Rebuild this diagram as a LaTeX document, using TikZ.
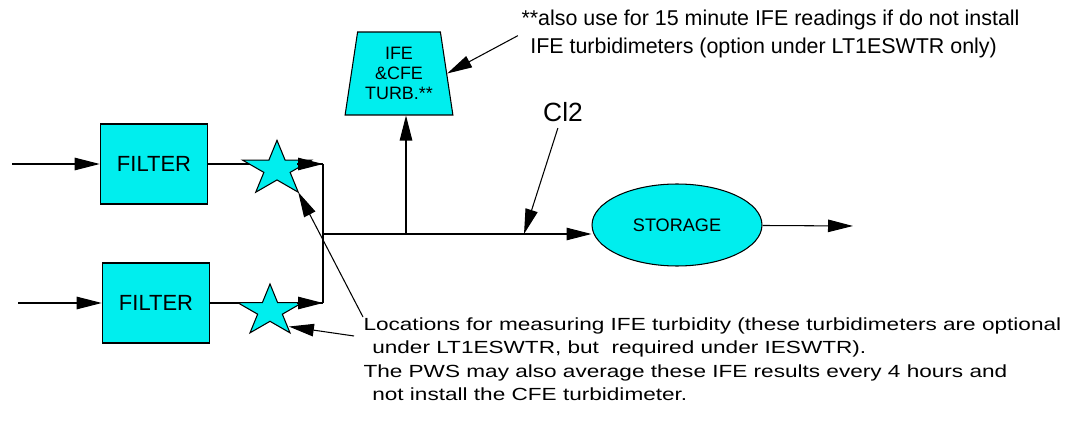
\documentclass[tikz,border=0pt]{standalone}
\usepackage{fontspec}
\setmainfont{Liberation Sans}
\newfontfamily\widefont{Liberation Sans}[FakeStretch=1.285]
\usetikzlibrary{shapes.geometric,arrows.meta}
\definecolor{aqua}{HTML}{00EEEE}
\tikzset{
  flow/.style={-{Triangle[length=0.5cm,width=0.25cm]}},
  unit/.style={rectangle,draw,fill=aqua,minimum width=2.15cm,minimum height=1.6cm,
    font=\fontsize{12.5}{14}\selectfont},
  meter/.pic={
    \draw[fill=aqua] (-90:#1) -- (-126:{#1/2.618}) -- (-162:#1) -- (-198:{#1/2.618})
      -- (-234:#1) -- (-270:{#1/2.618}) -- (-306:#1) -- (-342:{#1/2.618})
      -- (-378:#1) -- (-414:{#1/2.618}) -- cycle;
    \coordinate (-lr) at (54:#1);
    \coordinate (-rb) at (46:{#1*0.8});
  },
  note/.style={align=left,inner sep=0pt},
}

\begin{document}
\begin{tikzpicture}[x=0.02cm,y=-0.02cm,line width=0.6pt]
  \useasboundingbox (0,0) rectangle (1078,422);
  % filters
  \node[unit] (f1) at (154,164) {FILTER};
  \node[unit] (f2) at (156,303) {FILTER};
  \coordinate (in1) at (12,164);
  \coordinate (in2) at (18,303);
  \draw[flow] (in1) -- (f1);
  \draw[flow] (in2) -- (f2);
  % junction line
  \coordinate (j1) at (323,164);
  \coordinate (j2) at (323,303);
  \coordinate (j3) at (323,234);
  \coordinate (j4) at (406,234);
  \coordinate (m1) at (297,164);
  \coordinate (m2) at (297,303);
  \draw (f1) -- (j1);
  \draw (f2) -- (j2);
  % IFE turbidimeters
  \pic[xscale=1.26] (s1) at (277,169) {meter=28.7};
  \pic[xscale=1.26] (s2) at (270,311) {meter=27};
  \draw[flow] (m1) -- (j1);
  \draw[flow] (m2) -- (j2);
  \draw (j1) -- (j2);
  % storage
  \node[ellipse,draw,fill=aqua,minimum width=3.4cm,minimum height=1.64cm,inner sep=0pt,
    font=\fontsize{10.3}{12}\selectfont] (st) at (677,225) {STORAGE};
  \coordinate (out) at (853,226);
  \draw[flow] (j3) -- (j3 -| st.west);
  \draw[flow] (st) -- (out);
  % combined turbidimeter
  \node[trapezium,trapezium left angle=79,trapezium right angle=79,trapezium stretches=true,
    draw,fill=aqua,minimum width=2.16cm,minimum height=1.66cm,inner sep=0pt,align=center,
    font=\fontsize{10.2}{11.4}\selectfont] (tb) at (399,73.5) {IFE\\\&CFE\\TURB.**};
  \draw[flow] (j4) -- (j4 |- tb.south);
  % chlorine
  \node[font=\fontsize{15}{18}\selectfont] (cl) at (563,112) {Cl2};
  \coordinate (inj) at (524,234);
  \draw[flow] (cl) -- (inj);
  % notes
  \node[note,anchor=north west,font=\fontsize{12.2}{15.9}\selectfont] (nt) at (521,9.5)
    {**also use for 15 minute IFE readings if do not install\\
     \hspace{5pt}IFE turbidimeters (option under LT1ESWTR only)};
  \draw[flow,shorten <=2pt] (nt.west) -- (tb.east);
  \node[note,anchor=north west,font=\widefont\fontsize{10}{13.4}\selectfont] (nb) at (363,317)
    {Locations for measuring IFE turbidity (these turbidimeters are optional\\
     \hspace{5pt}under LT1ESWTR, but\ \ required under IESWTR).\\
     The PWS may also average these IFE results every 4 hours and\\
     \hspace{5pt}not install the CFE turbidimeter.};
  \coordinate (nbl) at (354,336);
  \draw[flow] (nb.north west) -- (s1-lr);
  \draw[flow] (nbl) -- (s2-rb);
\end{tikzpicture}
\end{document}
